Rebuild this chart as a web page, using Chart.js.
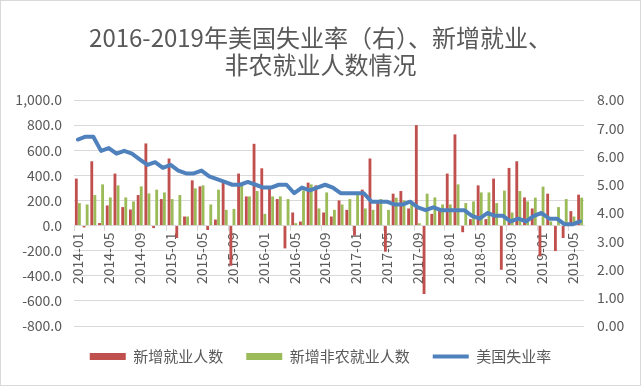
<!DOCTYPE html>
<html>
<head>
<meta charset="utf-8">
<script src="https://cdn.jsdelivr.net/npm/chart.js@4/dist/chart.umd.min.js"></script>
<style>
  html, body { margin: 0; padding: 0; background: #fff; }
  #box { width: 641px; height: 386px; box-sizing: border-box; border: 1px solid #d9d9d9; }
  #c { display: block; }
</style>
</head>
<body>
<div id="box"><canvas id="c" width="639" height="384"></canvas></div>
<script>
// 2014-01 .. 2019-06
const months = [];
for (let y = 2014; y <= 2019; y++) {
    for (let m = 1; m <= 12; m++) {
        if (y === 2019 && m > 6) break;
        months.push(y + '-' + String(m).padStart(2, '0'));
    }
}

// 新增就业人数 (千人)
const newJobs = [
    374, -15, 512, 20, 160, 414, 147, 128, 243, 654, -20, 211,
    534, -99, 72, 360, 312, -35, 48, 342, -320, 414, 232, 651,
    456, 294, 211, -182, 104, 32, 342, 320, 104, 72, 200, 125,
    -80, 286, 534, 179, -208, 254, 275, 136, 800, -545, 93, 125,
    414, 726, -53, 51, 320, 51, 374, -352, 459, 512, 224, 136,
    -246, 254, -203, -99, 115, 246
];

// 新增非农就业人数 (千人)
const nonfarm = [
    179, 168, 243, 328, 224, 320, 224, 192, 312, 256, 286, 264,
    211, 243, 72, 296, 320, 168, 286, 125, 133, 320, 232, 275,
    93, 232, 232, 211, 19, 280, 328, 136, 264, 125, 168, 211,
    248, 136, 125, 211, 125, 222, 200, 190, 18, 254, 224, 168,
    168, 328, 179, 192, 264, 264, 179, 278, 104, 275, 192, 222,
    310, 33, 147, 211, 72, 222
];

// 美国失业率 (%)
const unemployment = [
    6.6, 6.7, 6.7, 6.2, 6.3, 6.1, 6.2, 6.1, 5.9, 5.7, 5.8, 5.6,
    5.7, 5.5, 5.4, 5.4, 5.5, 5.3, 5.2, 5.1, 5.0, 5.0, 5.1, 5.0,
    4.9, 4.9, 5.0, 5.0, 4.7, 4.9, 4.8, 4.9, 5.0, 4.9, 4.7, 4.7,
    4.7, 4.7, 4.4, 4.4, 4.4, 4.3, 4.3, 4.4, 4.2, 4.1, 4.2, 4.1,
    4.1, 4.1, 4.1, 3.9, 3.8, 4.0, 3.9, 3.9, 3.7, 3.8, 3.7, 3.9,
    4.0, 3.8, 3.8, 3.6, 3.6, 3.7
];

const titleLines = ['2016-2019年美国失业率（右）、新增就业、', '非农就业人数情况'];

const FONT = '"Noto Sans CJK SC", "Noto Sans", sans-serif';
const GREY = '#595959';
const GRID = '#d9d9d9';

new Chart(document.getElementById('c'), {
    data: {
        labels: months,
        datasets: [
            { type: 'bar', label: '新增就业人数', data: newJobs, backgroundColor: '#C0504D',
              yAxisID: 'y', order: 1, pointStyle: 'rect', borderWidth: 0 },
            { type: 'bar', label: '新增非农就业人数', data: nonfarm, backgroundColor: '#9BBB59',
              yAxisID: 'y', order: 1, pointStyle: 'rect', borderWidth: 0 },
            { type: 'line', label: '美国失业率', data: unemployment, borderColor: '#4F81BD',
              backgroundColor: '#4F81BD', borderWidth: 4, pointRadius: 0, tension: 0,
              borderJoinStyle: 'round', borderCapStyle: 'round',
              yAxisID: 'y1', order: 0, pointStyle: 'line' },
        ]
    },
    options: {
        responsive: false,
        animation: false,
        datasets: { bar: { categoryPercentage: 0.8, barPercentage: 0.92 } },
        layout: { padding: { top: 0, bottom: 11, left: 0, right: 0 } },
        scales: {
            x: {
                position: { y: 0 },
                offset: true,
                grid: {
                    offset: true,
                    drawOnChartArea: false,
                    drawTicks: true,
                    tickLength: 5,
                    color: ctx => (ctx.index % 4 === 0 ? GRID : 'rgba(0,0,0,0)'),
                },
                border: { display: true, color: GRID },
                ticks: {
                    autoSkip: false,
                    maxRotation: 90,
                    minRotation: 90,
                    padding: 2,
                    color: GREY,
                    font: { family: FONT, size: 14 },
                    callback: (v, i) => (i % 4 === 0 ? months[i] : ''),
                },
                afterFit(scale) { scale.height = 0; },
            },
            y: {
                position: 'left',
                min: -800, max: 1000,
                grid: { color: GRID, drawTicks: false },
                border: { display: false },
                ticks: {
                    stepSize: 200,
                    padding: 12,
                    color: GREY,
                    font: { family: FONT, size: 14 },
                    callback: v => v.toLocaleString('en-US', { minimumFractionDigits: 1, maximumFractionDigits: 1 }),
                },
                afterFit(scale) { scale.width = 73; },
            },
            y1: {
                position: 'right',
                min: 0, max: 8,
                grid: { display: false, drawTicks: false },
                border: { display: false },
                ticks: {
                    stepSize: 1,
                    padding: 13,
                    color: GREY,
                    font: { family: FONT, size: 14 },
                    callback: v => v.toFixed(2),
                },
                afterFit(scale) { scale.width = 56; },
            },
        },
        plugins: {
            title: {
                display: true,
                text: titleLines,
                color: GREY,
                font: { family: FONT, size: 24, weight: 'normal', lineHeight: 1.125 },
                padding: { top: 23.5, bottom: 21.5 },
            },
            legend: {
                position: 'bottom',
                labels: {
                    usePointStyle: true,
                    pointStyleWidth: 36,
                    boxHeight: 7,
                    padding: 23,
                    color: GREY,
                    font: { family: FONT, size: 15 },
                    sort: (a, b) => a.datasetIndex - b.datasetIndex,
                },
            },
            tooltip: { enabled: false },
        },
    },
});
</script>
</body>
</html>
